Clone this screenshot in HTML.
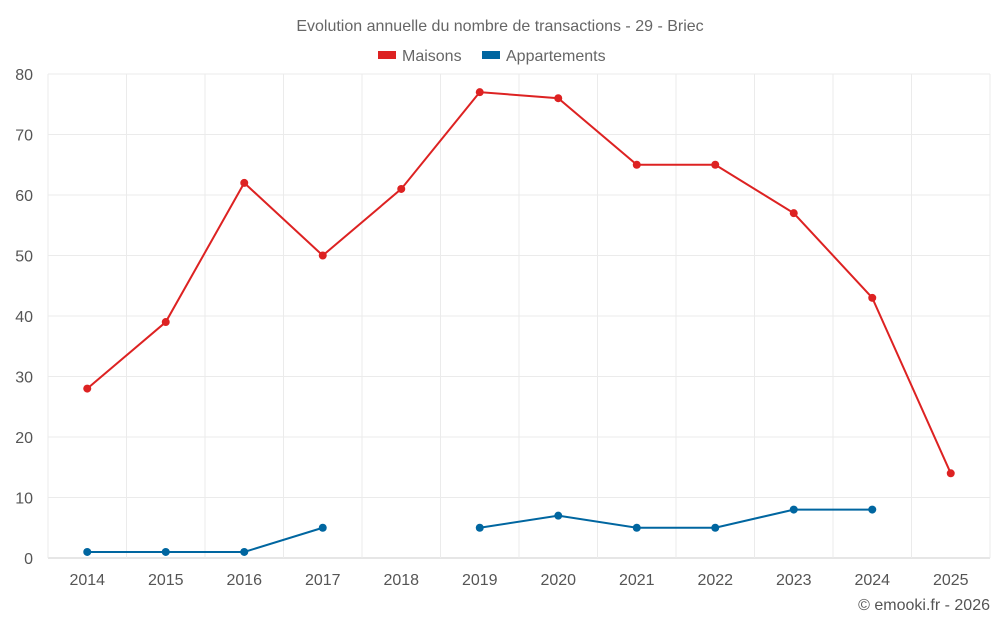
<!DOCTYPE html>
<html><head><meta charset="utf-8"><style>
body{margin:0;background:#fff;}
svg{display:block;font-family:"Liberation Sans",sans-serif;}
</style></head><body>
<svg id="chart" width="1000" height="625">
<text x="500" y="31" text-anchor="middle" font-size="16" fill="#666">Evolution annuelle du nombre de transactions - 29 - Briec</text>
<g>
<g><rect x="378" y="51" width="18" height="8" fill="#dd2222"/><text x="402" y="61" font-size="16" fill="#666">Maisons</text></g>
<g><rect x="482" y="51" width="18" height="8" fill="#0066a0"/><text x="506" y="61" font-size="16" fill="#666">Appartements</text></g>
</g>
<g id="grid"></g><g id="axes"></g><g id="series"></g>
<text x="990" y="610" text-anchor="end" font-size="16" fill="#555">© emooki.fr - 2026</text>
</svg>
<script>
const years=["2014","2015","2016","2017","2018","2019","2020","2021","2022","2023","2024","2025"];
const maisons=[28,39,62,50,61,77,76,65,65,57,43,14];
const appartements=[1,1,1,5,null,5,7,5,5,8,8,null];
const yTicks=[0,10,20,30,40,50,60,70,80];
const L=48,R=990,T=74,B=558,NS="http://www.w3.org/2000/svg";
const bw=(R-L)/years.length;
const x=i=>L+bw*(i+0.5);
const y=v=>B-(v/80)*(B-T);
function mk(tag,attrs,parent){const e=document.createElementNS(NS,tag);for(const k in attrs)e.setAttribute(k,attrs[k]);parent.appendChild(e);return e;}
const g=document.getElementById('grid'),ax=document.getElementById('axes'),s=document.getElementById('series');
yTicks.forEach(t=>{
 const l=mk('line',{x1:L,x2:R,y1:y(t),y2:y(t),stroke:t===0?'#ccc':'#ebebeb'},g);
 
 
 const tx=mk('text',{x:33,y:y(t)+6,'text-anchor':'end','font-size':16,fill:'#555'},ax);tx.textContent=t;
 
 
});
for(let i=0;i<=years.length;i++){
 const l=mk('line',{x1:L+bw*i,x2:L+bw*i,y1:T,y2:B,stroke:'#ebebeb'},g);
 
 
}
years.forEach((yr,i)=>{
 const tx=mk('text',{x:x(i),y:585,'text-anchor':'middle','font-size':16,fill:'#555'},ax);tx.textContent=yr;
 
 
});
function draw(data,color,name){
 let d='',pen=false;
 data.forEach((v,i)=>{if(v==null){pen=false;return;}d+=(pen?'L':'M')+x(i)+' '+y(v)+' ';pen=true;});
 const p=mk('path',{d:d,fill:'none',stroke:color,'stroke-width':2},s);
 
 
 data.forEach((v,i)=>{if(v==null)return;
  const c=mk('circle',{cx:x(i),cy:y(v),r:4,fill:color},s);
  
  
 });
}
draw(maisons,'#dd2222','maisons');
draw(appartements,'#0066a0','appartements');
</script>
</body></html>
